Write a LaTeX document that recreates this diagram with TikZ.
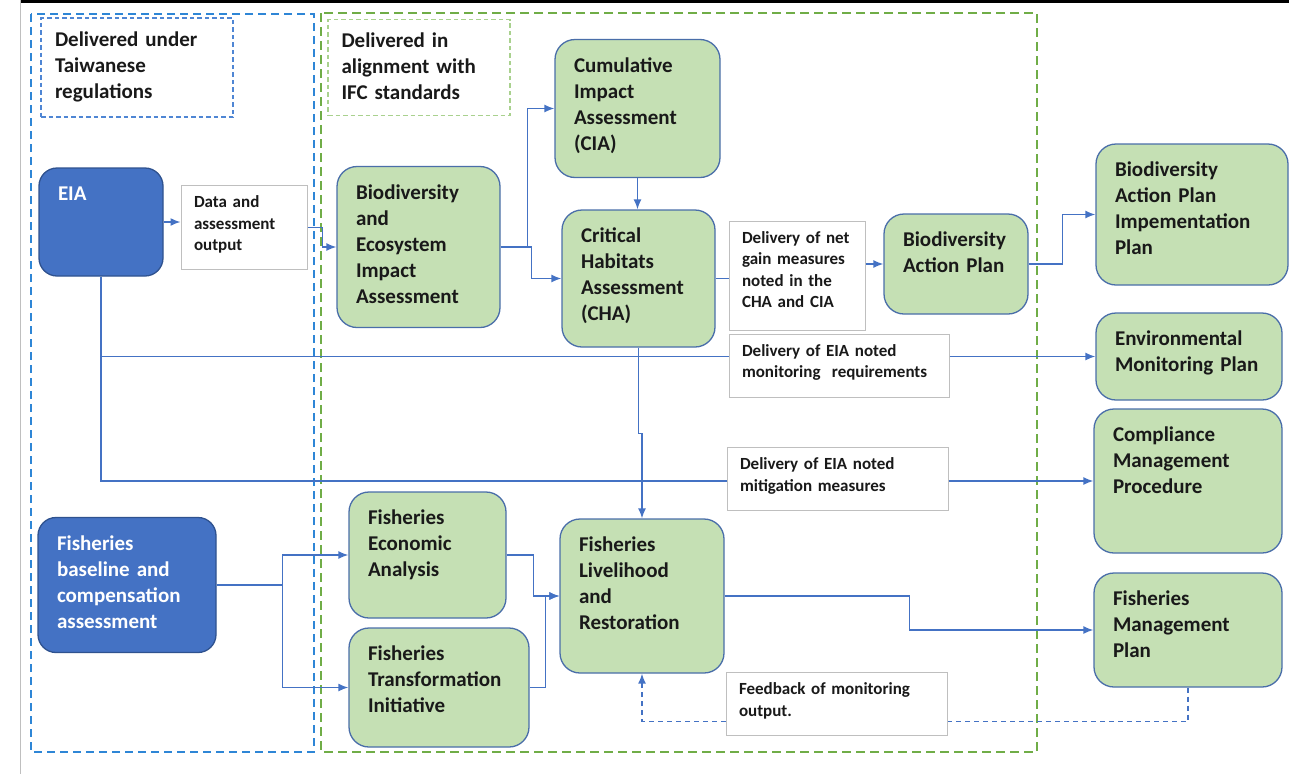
\documentclass[tikz,border=0pt]{standalone}
\usepackage{fontspec}
\setmainfont{Carlito}
\usetikzlibrary{arrows.meta}
\definecolor{boxgreen}{HTML}{C5E0B4}
\definecolor{boxedge}{HTML}{4A6EA9}
\definecolor{eiablue}{HTML}{4472C4}
\definecolor{eiaedge}{HTML}{2F528F}
\definecolor{arrowblue}{HTML}{4472C4}
\definecolor{regionblue}{HTML}{2E86D6}
\definecolor{titleblue}{HTML}{4F86D4}
\definecolor{regiongreen}{HTML}{70AD47}
\definecolor{titlegreen}{HTML}{A9D18E}
\definecolor{labelgray}{HTML}{BFBFBF}
\begin{document}
\begin{tikzpicture}[x=1pt,y=1pt,>={Latex[length=10pt,width=8pt]},
	bigtxt/.style={font=\fontsize{21}{26}\selectfont\bfseries,text=black!90},
	smalltxt/.style={font=\fontsize{17}{21.5}\selectfont\bfseries,text=black!90},
	greenbox/.style={bigtxt,draw=boxedge,fill=boxgreen,line width=1.3pt,rounded corners=20pt,align=left,inner xsep=19pt,inner ysep=0pt,text height=32.5pt},
	bluebox/.style={greenbox,draw=eiaedge,fill=eiablue,text=white,rounded corners=18pt},
	notebox/.style={smalltxt,draw=labelgray,fill=white,line width=1pt,align=left,inner xsep=13pt,inner ysep=0pt,text height=22pt},
	titlebox/.style={bigtxt,line width=1.3pt,dash pattern=on 4.5pt off 3pt,align=left,inner xsep=14pt,inner ysep=0pt,text height=28pt},
	link/.style={arrowblue,line width=1.5pt}]
		\useasboundingbox (0,0) rectangle (1289,-774);
		\draw [line width=3pt] (20,-1.5) -- (1289,-1.5);
		\draw [black!25,line width=1pt] (20,0) -- (20,-774);

		% the two delivery regions
		\draw [regionblue,line width=1.3pt,dash pattern=on 8pt off 5pt] (31,-14) rectangle (314,-752);
		\draw [regiongreen,line width=1.3pt,dash pattern=on 9pt off 5pt] (321,-13) rectangle (1037,-752);
		\node (twbox)  [titlebox,draw=titleblue,text width=164pt,text depth=71pt] at (137,-67.5) {Delivered under\\Taiwanese\\regulations};
		\node (ifcbox) [titlebox,draw=titlegreen,inner xsep=13.5pt,text width=155pt,text depth=68pt] at (419,-67.5) {Delivered in\\alignment with\\IFC standards};

		\node (eia)    [bluebox,text width=86pt,text depth=75.5pt] at (101,-222) {EIA};
		\node (data)   [notebox,text width=100pt,text depth=62pt] at (244,-227.5) {Data and\\assessment\\output};
		\node (beia)   [greenbox,text width=125pt,text depth=128.5pt] at (418.5,-247) {Biodiversity\\and\\Ecosystem\\Impact\\Assessment};
		\node (cia)    [greenbox,text width=127pt,text depth=105.5pt] at (637.5,-108.5) {Cumulative\\Impact\\Assessment\\(CIA)};
		\node (cha)    [greenbox,text width=115pt,text depth=104.5pt] at (638.5,-278.5) {Critical\\Habitats\\Assessment\\(CHA)};
		\node (netlbl) [notebox,text width=110pt,text depth=87pt] at (797,-275.5) {Delivery~of~net\\gain~measures\\noted~in~the\\CHA~and~CIA};
		\node (bap)    [greenbox,text width=106pt,text depth=67.5pt] at (956,-264) {Biodiversity\\Action~Plan};
		\node (bapi)   [greenbox,text width=154pt,text depth=108.5pt] at (1192,-214.5) {Biodiversity\\Action~Plan\\Impementation\\Plan};
		\node (emp)    [greenbox,text width=148pt,text depth=54.5pt] at (1189,-356.5) {Environmental\\Monitoring~Plan};
		\node (monlbl) [notebox,text width=194pt,text depth=41pt] at (839,-365.5) {Delivery of EIA noted\\monitoring~ requirements};
		\node (cmp)    [greenbox,text width=150pt,text depth=111.5pt] at (1188,-481) {Compliance\\Management\\Procedure};
		\node (mitlbl) [notebox,text width=195pt,text depth=41pt] at (837.5,-479) {Delivery of EIA noted\\mitigation measures};
		\node (fbl)    [bluebox,text width=140pt,text depth=102.5pt] at (127,-585) {Fisheries\\baseline~and\\compensation\\assessment};
		\node (fea)    [greenbox,text width=119pt,text depth=93.5pt] at (427.5,-555) {Fisheries\\Economic\\Analysis};
		\node (fti)    [greenbox,text width=142pt,text depth=86.5pt] at (439,-687.5) {Fisheries\\Transformation\\Initiative};
		\node (flr)    [greenbox,text width=126pt,text depth=121.5pt] at (642,-596) {Fisheries\\Livelihood\\and\\Restoration};
		\node (fmp)    [greenbox,text width=150pt,text depth=81.5pt] at (1188,-630) {Fisheries\\Management\\Plan};
		\node (fblbl)  [notebox,text width=195pt,text depth=41pt] at (836.5,-704) {Feedback of monitoring\\output.};

		\draw [->,link] (eia.east) -- (eia.east -| data.west);
		\draw [->,link] (data.east) -- ++(15,0) |- (beia.west);
		\draw [->,link] (beia.east) -- ++(27,0) |- (cia.west);
		\draw [->,link] (beia.east) -- ++(31,0) |- (cha.west);
		\draw [->,link] (cia.south) -- (cia.south |- cha.north);
		\draw [link] (cha.east) -- (cha.east -| netlbl.west);
		\draw [->,link] (netlbl.east |- bap.west) -- (bap.west);
		\draw [->,link] (bap.east) -- ++(34,0) |- (bapi.west);
		\draw [link] (eia.south) |- (monlbl.west |- emp.west);
		\draw [->,link] (monlbl.east |- emp.west) -- (emp.west);
		\draw [link] (eia.south) |- (mitlbl.west |- cmp.west);
		\draw [->,link] (mitlbl.east |- cmp.west) -- (cmp.west);
		\draw [->,link] (cha.south) -- ++(0,-86) -| (flr.north);
		\draw [->,link] (fbl.east) -- ++(66,0) |- (fea.west);
		\draw [->,link] (fbl.east) -- ++(66,0) |- (fti.west);
		\draw [->,link] (fea.east) -- ++(27,0) |- (flr.west);
		\draw [->,link] (fti.east) -- ++(16,0) |- (flr.west);
		\draw [->,link] (flr.east) -- ++(185,0) |- (fmp.west);
		\draw [link,dash pattern=on 5pt off 4pt] (fmp.south) |- ([yshift=-17.5pt]fblbl.east);
		\draw [->,link,dash pattern=on 5pt off 4pt] ([yshift=-17.5pt]fblbl.west) -| (flr.south);
\end{tikzpicture}
\end{document}
